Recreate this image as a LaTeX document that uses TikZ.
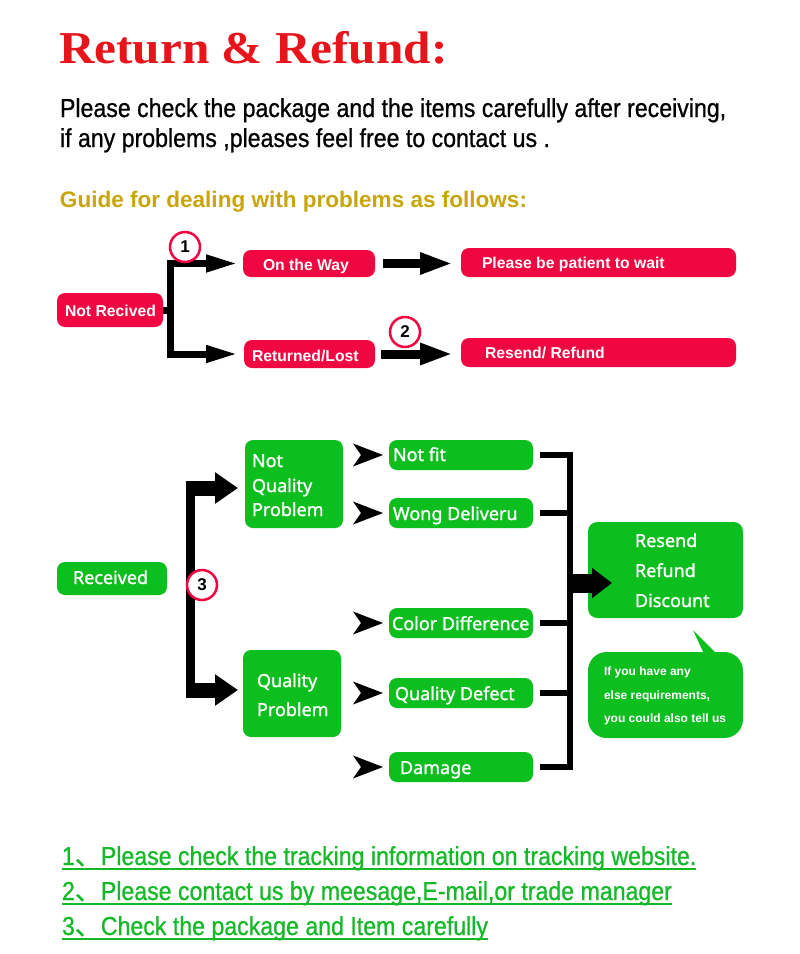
\documentclass[tikz,border=0pt]{standalone}
\usepackage{fontspec}
\setmainfont{Liberation Sans}
\newfontfamily\titlefont[FakeStretch=1.08]{Liberation Serif}
\newfontfamily\condfont[FakeStretch=0.89,FakeBold=0.8]{Liberation Sans}
\newfontfamily\gfont[FakeBold=1.2]{Noto Sans}
\newfontfamily\cjkfont[FakeBold=0.8]{Noto Sans CJK SC}
\usetikzlibrary{arrows.meta,calc}
\definecolor{titlered}{RGB}{232,20,27}
\definecolor{crim}{RGB}{240,6,64}
\definecolor{grn}{RGB}{12,190,30}
\definecolor{gold}{RGB}{200,165,10}
\definecolor{lgrn}{RGB}{20,185,40}
\tikzset{
  abox/.style args={#1/#2}{minimum width=#1*0.75pt, minimum height=#2*0.75pt, inner sep=0pt, outer sep=0pt},
  rbx/.style={fill=crim, rounded corners=6pt},
  gbx/.style={fill=grn, rounded corners=6pt},
  txt/.style={anchor=base west, inner sep=0pt, outer sep=0pt},
  rtxt/.style={txt, text=white, font=\bfseries\fontsize{11.8}{14}\selectfont},
  gtxt/.style={txt, text=white, font=\gfont\fontsize{13.5}{16}\selectfont},
  btxt/.style={txt, text=white, font=\bfseries\fontsize{9}{11}\selectfont},
  numcirc/.style={circle, draw=crim, line width=1.9pt, fill=white, minimum size=22.5pt, inner sep=0pt, font=\bfseries\fontsize{12.75}{14}\selectfont},
  blk/.style={draw=black, line join=miter},
  stealthmark/.style={fill=black},
  uline/.style={draw=lgrn, line width=1.1pt},
  ltxt/.style={txt, text=lgrn, font=\condfont\fontsize{19.5}{24}\selectfont}
}
\begin{document}
\begin{tikzpicture}[x=0.75pt,y=-0.75pt]
\useasboundingbox (0,0) rectangle (800,954);
\fill[white] (0,0) rectangle (800,954);

% header texts
\node[txt, text=titlered, font=\titlefont\bfseries\fontsize{34.2}{40}\selectfont] (title) at (59,63) {Return \& Refund:};
\node[txt, font=\condfont\fontsize{19.5}{24}\selectfont] (p1) at (60,117) {Please check the package and the items carefully after receiving,};
\node[txt, font=\condfont\fontsize{19.5}{24}\selectfont] (p2) at (60,147) {if any problems ,pleases feel free to contact us .};
\node[txt, text=gold, font=\bfseries\fontsize{16.9}{20}\selectfont] (guide) at (60,207) {Guide for dealing with problems as follows:};

% top flow (red)
\node[rbx, abox=106/34] (nr) at (110,310) {};
\node[rtxt] (nrt) at (65,316) {Not Recived};
\node[rbx, abox=132/27] (otw) at (309,263.5) {};
\node[rtxt] (otwt) at (263,270) {On the Way};
\node[rbx, abox=131/28] (rl) at (309.5,354) {};
\node[rtxt] (rlt) at (252,361) {Returned/Lost};
\node[rbx, abox=275/29] (pbp) at (598.5,262.5) {};
\node[rtxt] (pbpt) at (482,268) {Please be patient to wait};
\node[rbx, abox=275/29] (rr) at (598.5,352.5) {};
\node[rtxt] (rrt) at (485,358) {Resend/ Refund};

\coordinate (j1t) at (170,263.5);
\coordinate (j1b) at (170,354);
\draw[blk, line width=5.25pt] (nr.east) -- (nr.east -| j1t);
\draw[blk, line width=5.25pt, line cap=rect] (j1t) -- (j1b);
\draw[blk, line width=5.25pt, -{Triangle[length=24pt, width=12pt]}, shorten >=3.75pt] (j1t) -- (otw.west);
\draw[blk, line width=5.25pt, -{Triangle[length=24pt, width=12pt]}, shorten >=4.5pt] (j1b) -- (rl.west);
\draw[blk, line width=6.75pt, -{Triangle[length=24.75pt, width=15pt]}, shorten <=6pt, shorten >=6pt] (otw.east) -- (pbp.west |- otw.east);
\draw[blk, line width=6.75pt, -{Triangle[length=24.75pt, width=15pt]}, shorten <=4.5pt, shorten >=6pt] (rl.east) -- (rr.west |- rl.east);

% bottom flow (green)
\node[gbx, abox=110/33] (rec) at (112,578.5) {};
\node[gtxt] (rect) at (73,584) {Received};
\node[gbx, abox=98/88] (nqp) at (294,484) {};
\node[gtxt] (nqp1) at (252,467) {Not};
\node[gtxt] (nqp2) at (252,492) {Quality};
\node[gtxt] (nqp3) at (252,516) {Problem};
\node[gbx, abox=98/87] (qp) at (292,693.5) {};
\node[gtxt] (qp1) at (257,687) {Quality};
\node[gtxt] (qp2) at (257,716) {Problem};

\node[gbx, abox=144/30] (nf) at (461,455) {};
\node[gtxt] (nft) at (393,461) {Not fit};
\node[gbx, abox=144/30] (wd) at (461,513) {};
\node[gtxt] (wdt) at (393,520) {Wong Deliveru};
\node[gbx, abox=144/30] (cd) at (461,623) {};
\node[gtxt] (cdt) at (392,630) {Color Difference};
\node[gbx, abox=144/30] (qd) at (461,693) {};
\node[gtxt] (qdt) at (395,700) {Quality Defect};
\node[gbx, abox=144/30] (dm) at (461,767) {};
\node[gtxt] (dmt) at (400,774) {Damage};

\node[gbx, abox=155/96, rounded corners=7pt] (rrd) at (665.5,570) {};
\node[gtxt] (rrd1) at (635,547) {Resend};
\node[gtxt] (rrd2) at (635,577) {Refund};
\node[gtxt] (rrd3) at (635,607) {Discount};

\node[gbx, abox=155/86, rounded corners=14pt] (bub) at (665.5,695) {};
\fill[grn] (693,630) -- (705,656) -- (719,656) -- cycle;
\node[btxt] (bub1) at (604,675) {If you have any};
\node[btxt] (bub2) at (604,699) {else requirements,};
\node[btxt] (bub3) at (604,722) {you could also tell us};

% left thick bracket
\coordinate (j3t) at (190,488);
\coordinate (j3b) at (190,690);
\draw[blk, line width=6.75pt] (190,480.5) -- (190,697.5);
\draw[blk, line width=11.25pt, -{Triangle[length=17.25pt, width=22.5pt]}, shorten >=5.25pt] ($(j3t)+(-4.5,0)$) -- (nqp.west |- j3t);
\draw[blk, line width=11.25pt, -{Triangle[length=17.25pt, width=22.5pt]}, shorten >=3.75pt] ($(j3b)+(-4.5,0)$) -- (qp.west |- j3b);

% stealth marks
\foreach \b in {nf,wd,cd,qd,dm}{
  \fill[stealthmark] ($(\b.west)+(-6,0)$) -- ++(-30,-11.5) -- ++(8,11.5) -- ++(-8,11.5) -- cycle;
}

% right bracket
\coordinate (jr) at (570,583);
\foreach \b in {nf,wd,cd,qd,dm}{
  \draw[blk, line width=4.5pt, shorten <=5.25pt] (\b.east) -- ($(\b.east -| jr)+(3,0)$);
}
\draw[blk, line width=4.5pt] (570,452) -- (570,770);
\draw[blk, line width=14.25pt, -{Triangle[length=15pt, width=21.75pt]}] (jr) -- ($(rrd.west |- jr)+(24,0)$);

% numbered circles
\node[numcirc] (c1) at (185,247) {1};
\node[numcirc] (c2) at (405,332) {2};
\node[numcirc] (c3) at (202,585) {3};

% bottom notes
\node[ltxt] (l1) at (62,865) {1{\cjkfont 、}Please check the tracking information on tracking website.};
\draw[uline] ($(l1.base west)+(0,4)$) -- ($(l1.base east)+(0,4)$);
\node[ltxt] (l2) at (62,900) {2{\cjkfont 、}Please contact us by meesage,E-mail,or trade manager};
\draw[uline] ($(l2.base west)+(0,4)$) -- ($(l2.base east)+(0,4)$);
\node[ltxt] (l3) at (62,935) {3{\cjkfont 、}Check the package and Item carefully};
\draw[uline] ($(l3.base west)+(0,4)$) -- ($(l3.base east)+(0,4)$);
\end{tikzpicture}
\end{document}
